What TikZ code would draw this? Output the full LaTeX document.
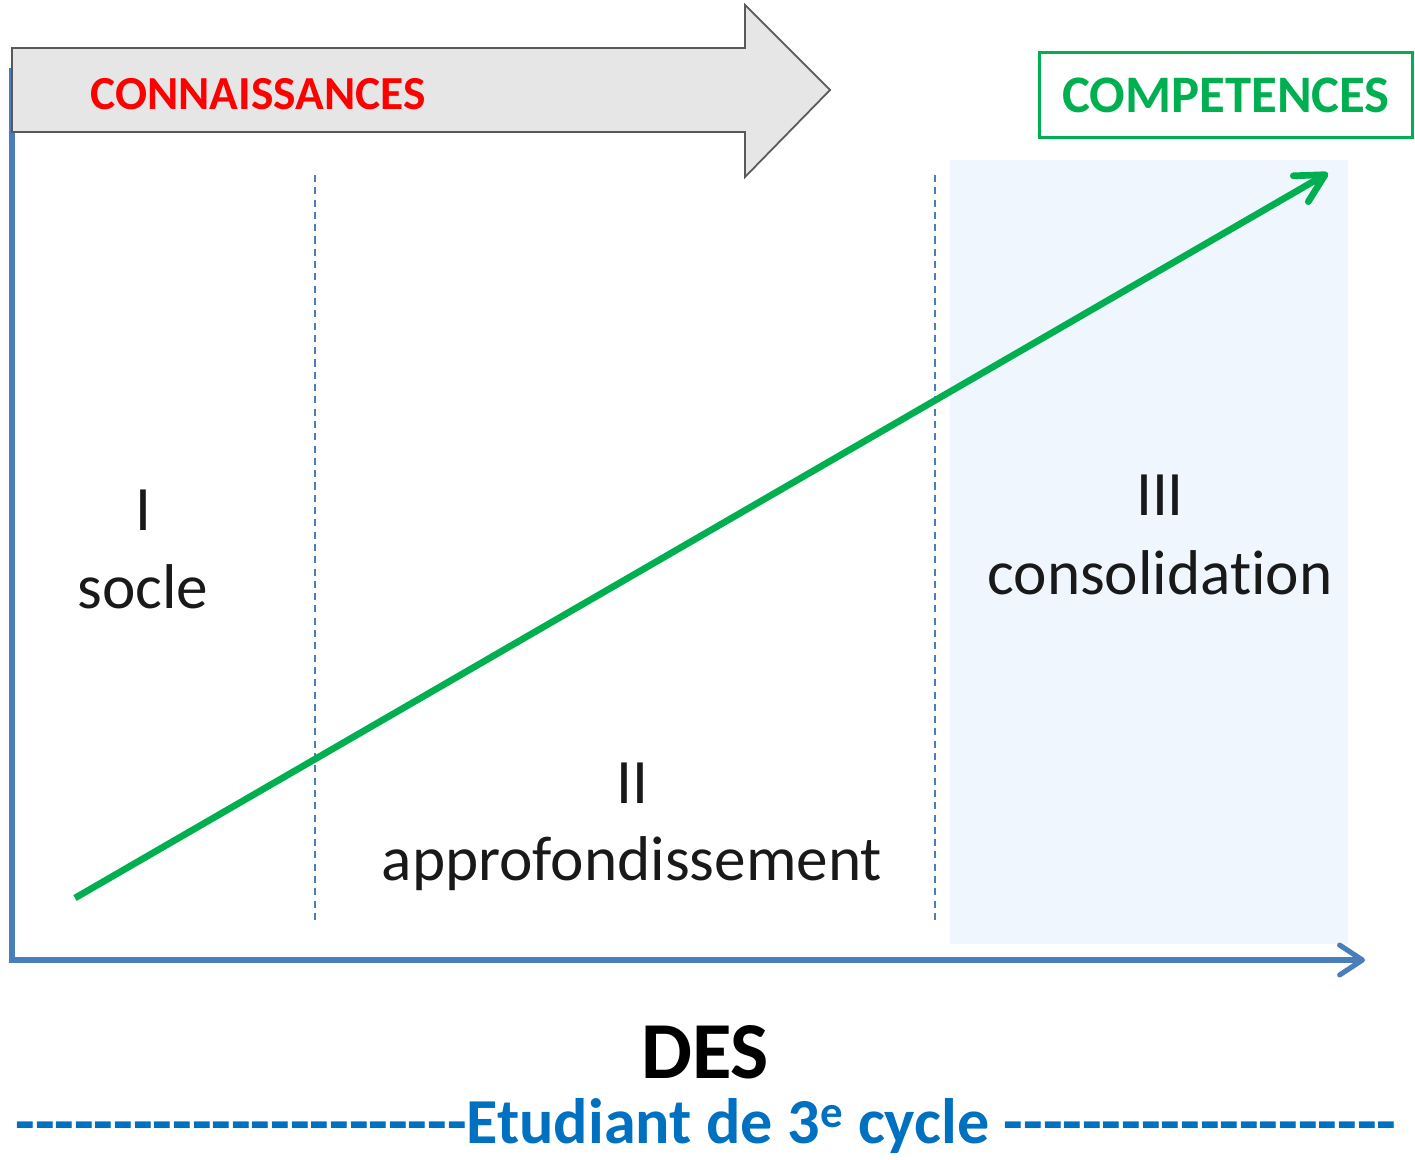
\documentclass[tikz,border=0pt]{standalone}
\usepackage{fontspec}
\setmainfont{Carlito}[Ligatures={TeXOff,CommonOff}]
\usetikzlibrary{arrows.meta,positioning}
\definecolor{axisblue}{RGB}{74,126,187}
\definecolor{compgreen}{RGB}{0,176,80}
\definecolor{connred}{RGB}{255,0,0}
\definecolor{stageblue}{RGB}{240,246,254}
\definecolor{textblue}{RGB}{0,112,192}
\definecolor{arrowgray}{RGB}{230,230,230}

\begin{document}
\begin{tikzpicture} [x=0.02cm,y=-0.02cm,
    every node/.style={inner sep=0pt,outer sep=0pt},
    axis/.style={axisblue,line width=2.9pt,
    -{Straight Barb[length=13pt,width=17pt,round]}},
    limit/.style={axisblue,line width=0.8pt,dash pattern=on 4pt off 3pt},
    growth/.style={compgreen,line width=3.8pt,
    -{Straight Barb[length=16pt,width=17pt,round]}},
    stage/.style={anchor=base,text=black!90,font=\fontsize{36}{43}\selectfont},
    bigarrow/.style={fill=arrowgray,draw=gray!70!black,line width=1pt},
    compbox/.style={draw=compgreen,line width=1.7pt,text=compgreen,
    minimum width=7.46cm,minimum height=1.7cm,
    font=\fontsize{30}{36}\selectfont\bfseries}
    ]
    \useasboundingbox (0,0) rectangle (1415,1159);
    \fill [stageblue] (950,160) rectangle (1348,944);

    \coordinate (ytop) at (12,68);
    \coordinate (origin) at (12,960);
    \coordinate (xend) at (1365,960);
    \coordinate (gstart) at (75,898);
    \coordinate (gend) at (1328,173);

    \draw [limit] (315,175) -- (315,922);
    \draw [limit] (935,175) -- (935,922);
    \draw [axis] (ytop) -- (origin) -- (xend);

    % fleche des connaissances
    \draw [bigarrow] (12,48) -- (745,48) -- (745,5) -- (830,90)
      -- (745,177) -- (745,132) -- (12,132) -- cycle;
    \node (conn) [anchor=base,text=connred,
      font=\fontsize{27}{32}\selectfont\bfseries] at (258,110) {CONNAISSANCES};
    \node (comp) [compbox] at (1226,95) {COMPETENCES};

    \draw [growth] (gstart) -- (gend);

    \node (s1) [stage] at (143,530) {I};
    \node (s1txt) [stage] at (143,608) {socle};
    \node (s2) [stage] at (632,803) {II};
    \node (s2txt) [stage] at (632,880) {approfondissement};
    \node (s3) [stage] at (1160,515) {III};
    \node (s3txt) [stage] at (1160,594) {consolidation};

    \node (des) [anchor=base,font=\fontsize{46}{55}\selectfont\bfseries]
      at (705,1078) {DES};
    \node (cycle) [anchor=base,text=textblue,font=\fontsize{36.5}{44}\selectfont\bfseries]
      at (706,1143)
      {-----------------------Etudiant de 3\textsuperscript{e} cycle --------------------};
\end{tikzpicture}
\end{document}
